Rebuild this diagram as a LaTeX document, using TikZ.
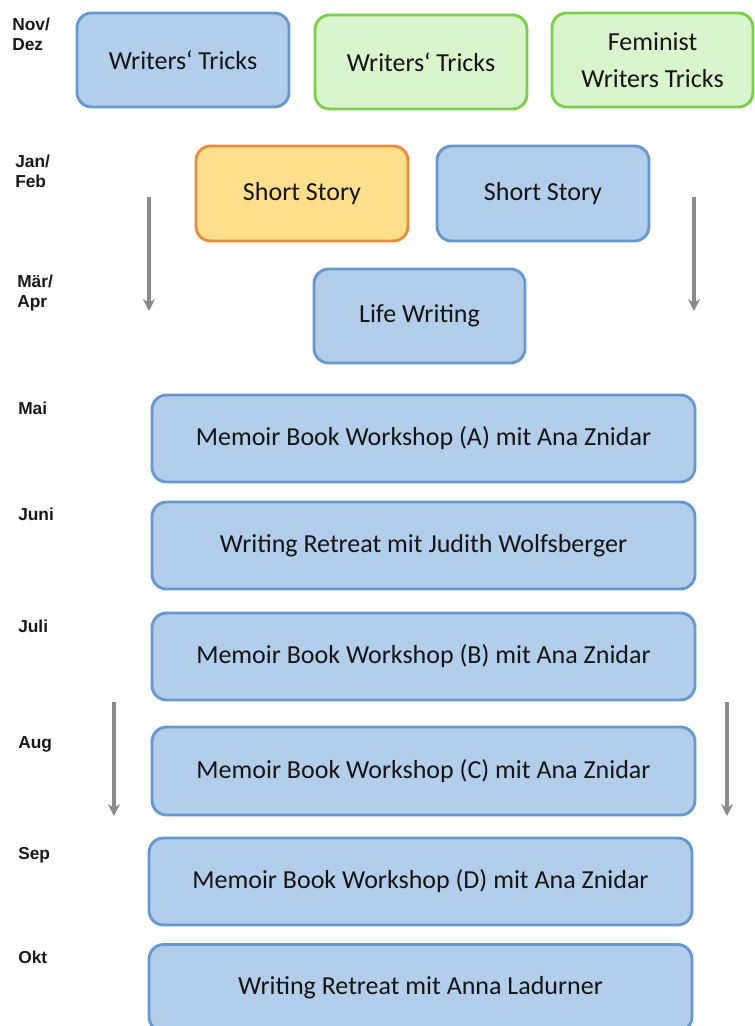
\documentclass[tikz,border=0pt]{standalone}
\usepackage{fontspec}
\setmainfont{Carlito}
\newfontfamily\monthfont{Liberation Sans}
\usetikzlibrary{arrows.meta}
\definecolor{bluefill}{HTML}{B3CEEA}
\definecolor{blueline}{HTML}{6798CF}
\definecolor{greenfill}{HTML}{DAF5CE}
\definecolor{greenline}{HTML}{7ACF4B}
\definecolor{orangefill}{HTML}{FFDF8C}
\definecolor{orangeline}{HTML}{E68E3E}
\definecolor{arrowgray}{HTML}{8A8A8A}
\tikzset{
  box/.style={rounded corners=11pt, line width=2.2pt, inner sep=0pt, align=center,
    font=\fontsize{19.5}{28}\selectfont, text=black!92},
  bluebox/.style={box, draw=blueline, fill=bluefill},
  greenbox/.style={box, draw=greenline, fill=greenfill},
  orangebox/.style={box, draw=orangeline, fill=orangefill},
  small/.style={minimum width=212*0.75pt, minimum height=94*0.75pt},
  wide/.style={minimum width=543*0.75pt, minimum height=87*0.75pt},
  month/.style={anchor=north west, inner sep=0pt, align=left,
    font=\monthfont\bfseries\fontsize{13}{15}\selectfont, text=black!90},
  timearrow/.style={draw=arrowgray, line width=2.6pt, -{Stealth[length=9pt,width=9pt]}},
}
\begin{document}
\begin{tikzpicture}[x=0.75pt,y=-0.75pt]
\useasboundingbox (0,0) rectangle (755,1026);
% month labels
\node[month] (m1) at (12,18) {Nov/\\Dez};
\node[month] (m2) at (15,155) {Jan/\\Feb};
\node[month] (m3) at (17,275) {Mär/\\Apr};
\node[month] (m4) at (18,402) {Mai};
\node[month] (m5) at (18,508) {Juni};
\node[month] (m6) at (18,620) {Juli};
\node[month] (m7) at (18,736) {Aug};
\node[month] (m8) at (18,847) {Sep};
\node[month] (m9) at (18,951) {Okt};
% row 1
\node[bluebox, small] (wt1) at (183,60) {Writers‘ Tricks};
\node[greenbox, small] (wt2) at (421,62) {Writers‘ Tricks};
\node[greenbox, small, minimum width=201*0.75pt] (fwt) at (652.5,60) {Feminist\\Writers Tricks};
% row 2
\node[orangebox, small, minimum height=95*0.75pt] (ss1) at (302,193.5) {Short Story};
\node[bluebox, small, minimum height=95*0.75pt] (ss2) at (543,193.5) {Short Story};
% row 3
\node[bluebox, small, minimum width=211*0.75pt] (lw) at (419.5,316) {Life Writing};
% wide rows
\node[bluebox, wide] (mA) at (423.5,438.5) {Memoir Book Workshop (A) mit Ana Znidar};
\node[bluebox, wide] (wrJ) at (423.5,545.5) {Writing Retreat mit Judith Wolfsberger};
\node[bluebox, wide] (mB) at (423.5,656.5) {Memoir Book Workshop (B) mit Ana Znidar};
\node[bluebox, wide, minimum height=88*0.75pt] (mC) at (423.5,771) {Memoir Book Workshop (C) mit Ana Znidar};
\node[bluebox, wide] (mD) at (420.5,881.5) {Memoir Book Workshop (D) mit Ana Znidar};
\node[bluebox, wide] (wrA) at (420.5,988) {Writing Retreat mit Anna Ladurner};
% arrows
\coordinate (la1s) at (149,197);
\coordinate (la1e) at (149,311);
\coordinate (ra1s) at (694,197);
\coordinate (ra1e) at (694,311);
\coordinate (la2s) at (114,702);
\coordinate (la2e) at (114,816);
\coordinate (ra2s) at (727,702);
\coordinate (ra2e) at (727,816);
\draw[timearrow] (la1s) -- (la1e);
\draw[timearrow] (ra1s) -- (ra1e);
\draw[timearrow] (la2s) -- (la2e);
\draw[timearrow] (ra2s) -- (ra2e);
\end{tikzpicture}
\end{document}
